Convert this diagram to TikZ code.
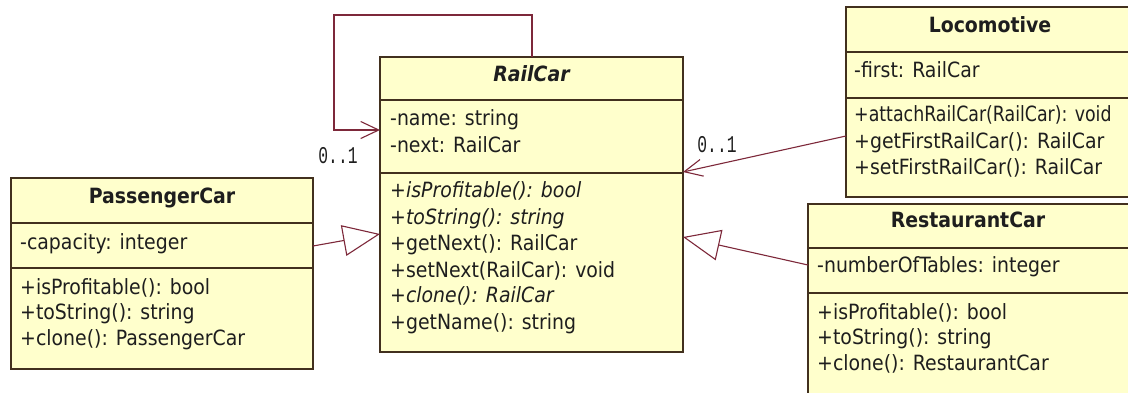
\documentclass[tikz,border=0pt]{standalone}
\usepackage{fontspec}
\setmainfont{DejaVu Sans Condensed}
\setmonofont{Liberation Mono}
\usetikzlibrary{arrows.meta}
\definecolor{boxfill}{RGB}{255,255,204}
\definecolor{boxline}{RGB}{66,48,30}
\definecolor{linkcol}{RGB}{125,40,58}
\definecolor{txtcol}{RGB}{30,30,30}
\tikzset{
  classbox/.style={draw=boxline, fill=boxfill, line width=1.4pt},
  divider/.style={draw=boxline, line width=1.4pt},
  member/.style={anchor=west, inner sep=0pt, text height=0.75em, text depth=0.25em, font=\fontsize{21}{23}\selectfont, text=txtcol},
  ctitle/.style={anchor=center, inner sep=0pt, text height=0.75em, text depth=0.25em, font=\fontsize{21}{23}\selectfont\bfseries, text=txtcol},
  link/.style={draw=linkcol, line width=1.1pt},
  assoc/.style={link, -{Straight Barb[length=18pt, width=17pt, line width=1.1pt]}},
  gen/.style={link, -{Triangle[open, length=37pt, width=31pt, line width=1.1pt, fill=white]}},
  mult/.style={inner sep=0pt, text=txtcol, font=\fontsize{24}{26}\ttfamily}
}
\begin{document}
\begin{tikzpicture}[x=1pt, y=-1pt]
\useasboundingbox (0,0) rectangle (1128,392);
\clip (0,0) rectangle (1128,392);
\fill[white] (0,0) rectangle (1128,392);

% ---------- RailCar ----------
\path[classbox] (380,57) rectangle (683,352);
\draw[divider] (380,100) -- (683,100);
\draw[divider] (380,173) -- (683,173);
\node[ctitle, font=\fontsize{21}{23}\selectfont\bfseries\itshape] (rcT) at (531.5,79) {RailCar};
\node[member] (rc1) at (390,123) {-name: string};
\node[member] (rc2) at (390,150) {-next: RailCar};
\node[member, font=\fontsize{21}{23}\selectfont\itshape] (rc3) at (390,195) {+isProfitable(): bool};
\node[member, font=\fontsize{21}{23}\selectfont\itshape] (rc4) at (390,222) {+toString(): string};
\node[member] (rc5) at (390,248) {+getNext(): RailCar};
\node[member] (rc6) at (390,275) {+setNext(RailCar): void};
\node[member, font=\fontsize{21}{23}\selectfont\itshape] (rc7) at (390,300) {+clone(): RailCar};
\node[member] (rc8) at (390,327) {+getName(): string};
\coordinate (rcTop) at (532,57);
\coordinate (rcLeftIn) at (380,130);
\coordinate (rcRightA) at (683,172);
\coordinate (rcRightG) at (683,237);
\coordinate (rcLeftG) at (380,234);

% ---------- PassengerCar ----------
\path[classbox] (11,178) rectangle (313,369);
\draw[divider] (11,223) -- (313,223);
\draw[divider] (11,268) -- (313,268);
\node[ctitle] (pcT) at (162,201) {PassengerCar};
\node[member] (pc1) at (20,247) {-capacity: integer};
\node[member] (pc2) at (20,292) {+isProfitable(): bool};
\node[member] (pc3) at (20,317) {+toString(): string};
\node[member] (pc4) at (20,343) {+clone(): PassengerCar};
\coordinate (pcRight) at (313,246);

% ---------- Locomotive ----------
\path[classbox] (846,7) rectangle (1145,197);
\draw[divider] (846,52) -- (1145,52);
\draw[divider] (846,98) -- (1145,98);
\node[ctitle] (loT) at (990,30) {Locomotive};
\node[member] (lo1) at (854,75) {-first: RailCar};
\node[member] (lo2) at (854,119) {\scalebox{0.92}[1]{+attachRailCar(RailCar): void}};
\node[member] (lo3) at (854,146) {+getFirstRailCar(): RailCar};
\node[member] (lo4) at (854,172) {+setFirstRailCar(): RailCar};
\coordinate (loLeft) at (846,136);

% ---------- RestaurantCar ----------
\path[classbox] (808,204) rectangle (1145,400);
\draw[divider] (808,248) -- (1145,248);
\draw[divider] (808,293) -- (1145,293);
\node[ctitle] (reT) at (968,225) {RestaurantCar};
\node[member] (re1) at (817,270) {-numberOfTables: integer};
\node[member] (re2) at (817,317) {+isProfitable(): bool};
\node[member] (re3) at (817,342) {+toString(): string};
\node[member] (re4) at (817,368) {+clone(): RestaurantCar};
\coordinate (reLeft) at (808,265);

% ---------- connectors ----------
\coordinate (loopA) at (532,15);
\coordinate (loopB) at (334,15);
\coordinate (loopC) at (334,130);
\draw[assoc] (rcTop) -- (loopA) -- (loopB) -- (loopC) -- (rcLeftIn);
\node[mult] (m1) at (338,156) {\scalebox{0.68}[1]{0..1}};

\draw[assoc] (loLeft) -- (rcRightA);
\node[mult] (m2) at (717,145) {\scalebox{0.68}[1]{0..1}};

\draw[gen] (reLeft) -- (rcRightG);
\draw[gen] (pcRight) -- (rcLeftG);
\end{tikzpicture}
\end{document}
